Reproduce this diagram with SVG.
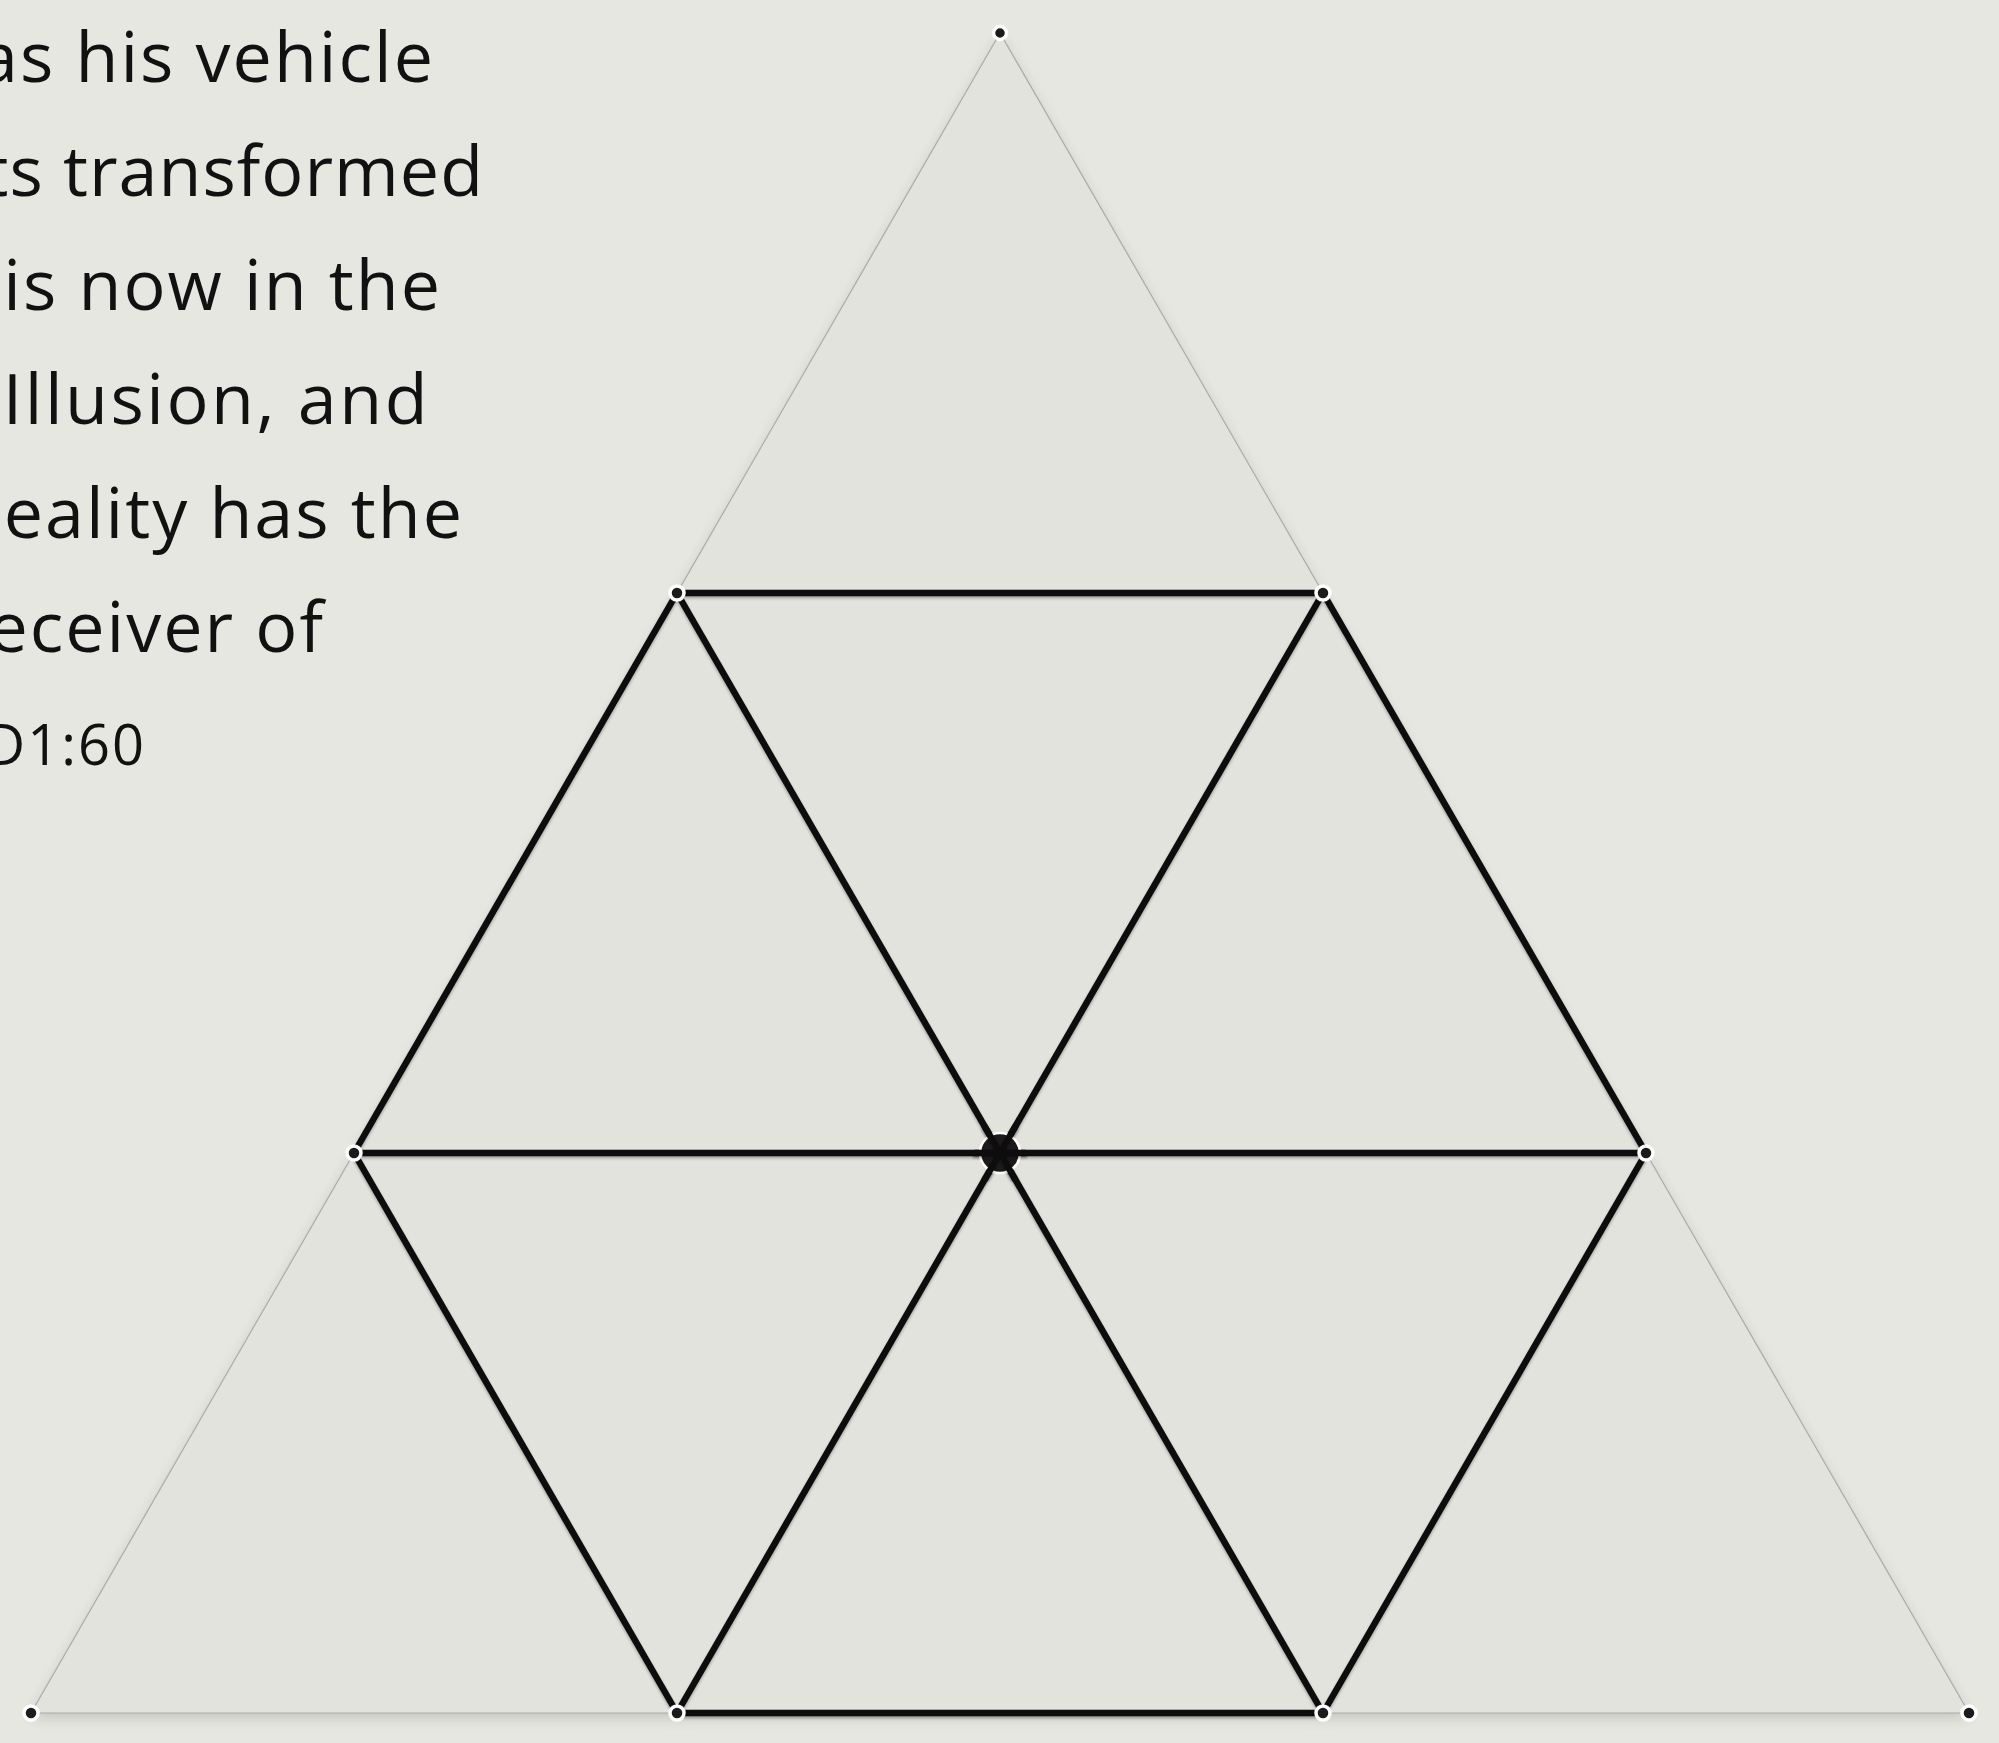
<svg xmlns="http://www.w3.org/2000/svg" width="1999" height="1743" viewBox="0 0 1999 1743">
<defs>
<filter id="sh" x="-10%" y="-10%" width="120%" height="120%">
<feGaussianBlur in="SourceAlpha" stdDeviation="7"/>
<feOffset dx="0" dy="5" result="b"/>
<feComponentTransfer><feFuncA type="linear" slope="0.15"/></feComponentTransfer>
<feMerge><feMergeNode/><feMergeNode in="SourceGraphic"/></feMerge>
</filter>
<filter id="lsh" x="-5%" y="-5%" width="110%" height="110%">
<feGaussianBlur in="SourceAlpha" stdDeviation="1.5"/>
<feOffset dx="0" dy="2"/>
<feComponentTransfer><feFuncA type="linear" slope="0.3"/></feComponentTransfer>
<feMerge><feMergeNode/><feMergeNode in="SourceGraphic"/></feMerge>
</filter>
</defs>
<style>
.bg{fill:#e7e7e1}
.tri{fill:#e3e3de;stroke:none}
.thin{stroke:#a9a9a6;stroke-width:1.2;fill:none}
.thick{stroke:#111;stroke-width:6.5;stroke-linecap:round;fill:none}
.dot{fill:#1e1a1c;stroke:#fff;stroke-width:3.5}
.txt{font-family:"Open Sans","Noto Sans",sans-serif;fill:#111;font-size:70px;letter-spacing:2px}
</style>
<rect class="bg" x="0" y="0" width="1999" height="1743"/>
<g id="text">
<text class="txt" x="435" y="82" text-anchor="end">as his vehicle</text>
<text class="txt" x="484" y="196" text-anchor="end" style="letter-spacing:1px">ts transformed</text>
<text class="txt" x="442" y="310" text-anchor="end">is now in the</text>
<text class="txt" x="430" y="424" text-anchor="end" style="letter-spacing:2.5px">Illusion, and</text>
<text class="txt" x="464" y="538" text-anchor="end">eality has the</text>
<text class="txt" x="325" y="652" text-anchor="end">eceiver of</text>
<text class="txt" x="146" y="765" text-anchor="end" style="font-size:56px">D1:60</text>
</g>
<g id="triangles" filter="url(#sh)">
<polygon class="tri" points="1000,33 677,593 1323,593"/>
<polygon class="tri" points="354,1153 31,1713 677,1713"/>
<polygon class="tri" points="1646,1153 1323,1713 1969,1713"/>
<polygon class="tri" points="677,593 1323,593 1000,1153"/>
<polygon class="tri" points="677,593 354,1153 1000,1153"/>
<polygon class="tri" points="1323,593 1646,1153 1000,1153"/>
<polygon class="tri" points="354,1153 1000,1153 677,1713"/>
<polygon class="tri" points="1646,1153 1000,1153 1323,1713"/>
<polygon class="tri" points="677,1713 1323,1713 1000,1153"/>
</g>
<g id="connectors">
<line class="thin" x1="1000" y1="33" x2="677" y2="593"/>
<line class="thin" x1="1000" y1="33" x2="1323" y2="593"/>
<line class="thin" x1="354" y1="1153" x2="31" y2="1713"/>
<line class="thin" x1="31" y1="1713" x2="677" y2="1713"/>
<line class="thin" x1="1646" y1="1153" x2="1969" y2="1713"/>
<line class="thin" x1="1323" y1="1713" x2="1969" y2="1713"/>
<g filter="url(#lsh)">
<line class="thick" x1="677" y1="593" x2="1323" y2="593"/>
<line class="thick" x1="677" y1="593" x2="354" y2="1153"/>
<line class="thick" x1="1323" y1="593" x2="1646" y2="1153"/>
<line class="thick" x1="354" y1="1153" x2="677" y2="1713"/>
<line class="thick" x1="1646" y1="1153" x2="1323" y2="1713"/>
<line class="thick" x1="677" y1="1713" x2="1323" y2="1713"/>
<line class="thick" x1="677" y1="593" x2="1323" y2="1713"/>
<line class="thick" x1="1323" y1="593" x2="677" y2="1713"/>
<line class="thick" x1="354" y1="1153" x2="1646" y2="1153"/>
</g>
</g>
<g id="node-top"><circle class="dot" cx="1000" cy="33" r="6.5"/></g>
<g id="node-hex-tl"><circle class="dot" cx="677" cy="593" r="7"/></g>
<g id="node-hex-tr"><circle class="dot" cx="1323" cy="593" r="7"/></g>
<g id="node-left"><circle class="dot" cx="354" cy="1153" r="7"/></g>
<g id="node-right"><circle class="dot" cx="1646" cy="1153" r="7"/></g>
<g id="node-center"><circle cx="1000" cy="1153" r="20" fill="#1e1a1c" stroke="#fff" stroke-width="2.5"/>
<g filter="url(#lsh)">
<line class="thick" x1="985" y1="1127" x2="1015" y2="1179"/>
<line class="thick" x1="1015" y1="1127" x2="985" y2="1179"/>
<line class="thick" x1="975" y1="1153" x2="1025" y2="1153"/>
</g></g>
<g id="node-hex-bl"><circle class="dot" cx="677" cy="1713" r="7"/></g>
<g id="node-hex-br"><circle class="dot" cx="1323" cy="1713" r="7"/></g>
<g id="node-bl"><circle class="dot" cx="31" cy="1713" r="7"/></g>
<g id="node-br"><circle class="dot" cx="1969" cy="1713" r="7"/></g>
</svg>
